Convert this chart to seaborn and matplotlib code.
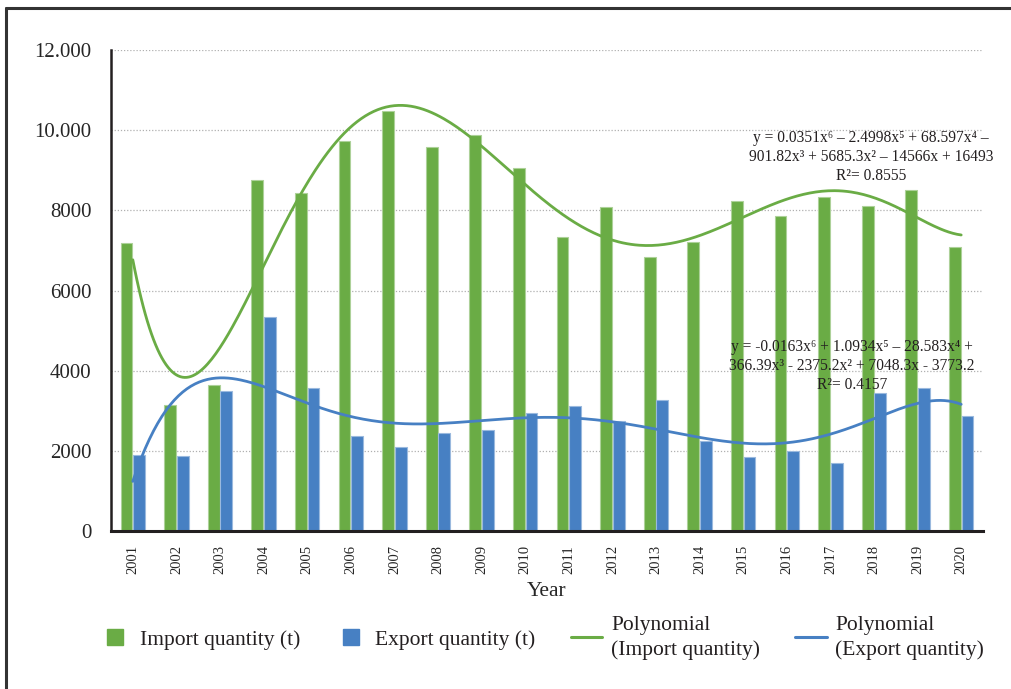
import numpy as np
import pandas as pd
import matplotlib
matplotlib.use("Agg")
import matplotlib.pyplot as plt
from matplotlib.lines import Line2D
import matplotlib.colors as mcolors
import seaborn as sns

# ---- data -------------------------------------------------------------
years = [str(y) for y in range(2001, 2021)]
import_qty = [7190, 3140, 3640, 8760, 8430, 9730, 10480, 9580, 9880, 9060,
              7340, 8080, 6840, 7210, 8230, 7860, 8330, 8110, 8510, 7090]
export_qty = [1900, 1870, 3490, 5340, 3570, 2370, 2100, 2440, 2520, 2940,
              3120, 2750, 3270, 2250, 1850, 2000, 1700, 3440, 3570, 2870]
series_names = ["Import quantity (t)", "Export quantity (t)"]
trend_names = ["Polynomial\n(Import quantity)", "Polynomial\n(Export quantity)"]
ytick_values = [0, 2000, 4000, 6000, 8000, 10000, 12000]
ytick_labels = ["0", "2000", "4000", "6000", "8000", "10.000", "12.000"]
eq_import = ("y = 0.0351x⁶ – 2.4998x⁵ + 68.597x⁴ –\n"
             "901.82x³ + 5685.3x² – 14566x + 16493\n"
             "R²= 0.8555")
eq_export = ("y = -0.0163x⁶ + 1.0934x⁵ – 28.583x⁴ +\n"
             "366.39x³ - 2375.2x² + 7048.3x - 3773.2\n"
             "R²= 0.4157")

GREEN = "#6aac45"
BLUE = "#4780c3"
SERIF = ["Liberation Serif", "DejaVu Serif"]

# ---- style ------------------------------------------------------------
sns.set_theme(style="white")
plt.rcParams["font.family"] = SERIF
plt.rcParams["text.color"] = "#231f20"
plt.rcParams["axes.unicode_minus"] = False

df = pd.DataFrame({
    "Year": years * 2,
    "Quantity": import_qty + export_qty,
    "Series": [series_names[0]] * len(years) + [series_names[1]] * len(years),
})

fig = plt.figure(figsize=(10.11, 6.89), dpi=100)
ax = fig.add_axes([111 / 1011, 1 - 531 / 689, (983 - 111) / 1011, (531 - 50) / 689])

sns.barplot(data=df, x="Year", y="Quantity", hue="Series",
            palette=[GREEN, BLUE], width=0.58, gap=0.06,
            legend=False, ax=ax, saturation=1)

# light outline around each bar
for p in ax.patches:
    fc = np.array(mcolors.to_rgb(p.get_facecolor()))
    p.set_edgecolor(tuple(fc + (1 - fc) * 0.45))
    p.set_linewidth(0.8)

# degree-6 polynomial trend lines
t = np.arange(1, len(years) + 1)
t_dense = np.linspace(1, len(years), 400)
for vals, col in [(import_qty, GREEN), (export_qty, BLUE)]:
    coef = np.polyfit(t, vals, 6)
    curve = pd.DataFrame({"x": t_dense - 1, "y": np.polyval(coef, t_dense)})
    sns.lineplot(data=curve, x="x", y="y", color=col, linewidth=2.0, ax=ax)

# ---- axes ---------------------------------------------------------------
ax.set_xlim(-0.5, len(years) - 0.5)
ax.set_ylim(0, 12000)
ax.set_yticks(ytick_values)
ax.set_yticklabels(ytick_labels, fontsize=15)
ax.set_xticks(range(len(years)))
ax.set_xticklabels(years, rotation=90, fontsize=10.5)
ax.tick_params(axis="y", length=8, width=1.5, color="#231f20", pad=6)
ax.tick_params(axis="x", length=0, pad=10)
ax.set_xlabel("Year", fontsize=15.5, labelpad=6)
ax.set_ylabel("")

ax.grid(axis="y", color="#b0b0b0", linestyle=(0, (1, 1.5)), linewidth=0.9)
ax.set_axisbelow(True)
for side in ["top", "right"]:
    ax.spines[side].set_visible(False)
ax.spines["left"].set_color("#231f20")
ax.spines["left"].set_linewidth(1.8)
ax.spines["bottom"].set_color("#231f20")
ax.spines["bottom"].set_linewidth(2.2)

# ---- equations ------------------------------------------------------------
ax.text(871 / 1011, 1 - 157 / 689, eq_import, transform=fig.transFigure,
        ha="center", va="center", fontsize=11.2, linespacing=1.25,
        multialignment="center", family=SERIF)
ax.text(852 / 1011, 1 - 366 / 689, eq_export, transform=fig.transFigure,
        ha="center", va="center", fontsize=11.2, linespacing=1.25,
        multialignment="center", family=SERIF)

# ---- legend ---------------------------------------------------------------
handles = [
    Line2D([], [], linestyle="none", marker="s", markersize=11,
           markerfacecolor=GREEN, markeredgecolor=GREEN),
    Line2D([], [], linestyle="none", marker="s", markersize=11,
           markerfacecolor=BLUE, markeredgecolor=BLUE),
    Line2D([], [], color=GREEN, linewidth=2.2),
    Line2D([], [], color=BLUE, linewidth=2.2),
]
leg = fig.legend(handles, series_names + trend_names, loc="center",
                 bbox_to_anchor=(542 / 1011, 1 - 638 / 689), ncol=4,
                 frameon=False, fontsize=15.5, handlelength=1.45,
                 handletextpad=0.4, columnspacing=1.65)
for txt in leg.get_texts():
    txt.set_linespacing(1.35)

# ---- outer frame (top and left edges) -------------------------------------
fig.add_artist(Line2D([6 / 1011, 1.0], [1 - 8 / 689, 1 - 8 / 689],
                      transform=fig.transFigure, color="#333333", linewidth=2.2))
fig.add_artist(Line2D([6 / 1011, 6 / 1011], [0.0, 1 - 8 / 689],
                      transform=fig.transFigure, color="#333333", linewidth=2.2))

fig.savefig("out.png", dpi=100, facecolor="white")
